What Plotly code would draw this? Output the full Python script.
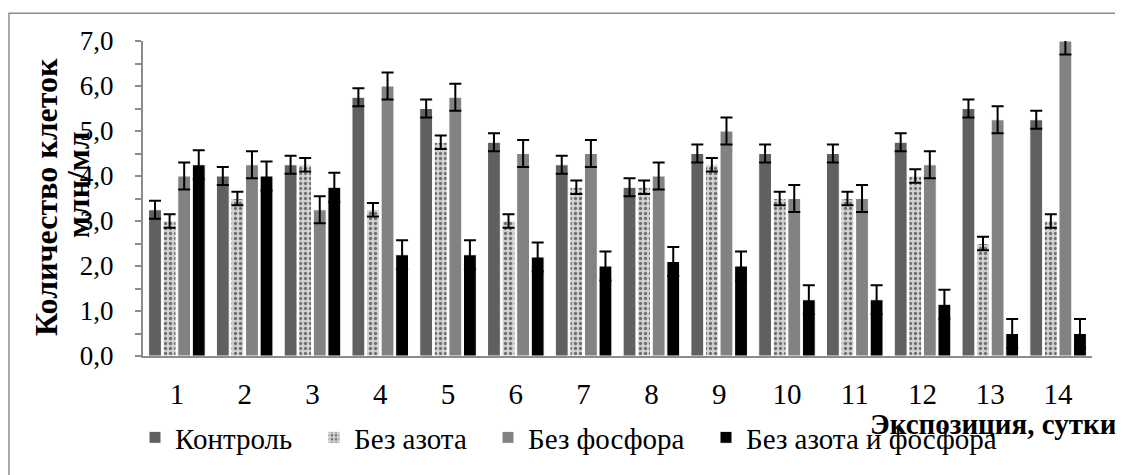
import plotly.graph_objects as go

days = [str(d) for d in range(1, 15)]
control = [3.25, 4.0, 4.25, 5.75, 5.5, 4.75, 4.25, 3.75, 4.5, 4.5, 4.5, 4.75, 5.5, 5.25]
no_n = [3.0, 3.5, 4.25, 3.25, 4.75, 3.0, 3.75, 3.75, 4.25, 3.5, 3.5, 4.0, 2.5, 3.0]
no_p = [4.0, 4.25, 3.25, 6.0, 5.75, 4.5, 4.5, 4.0, 5.0, 3.5, 3.5, 4.25, 5.25, 7.0]
no_np = [4.25, 4.0, 3.75, 2.25, 2.25, 2.2, 2.0, 2.1, 2.0, 1.25, 1.25, 1.15, 0.5, 0.5]

err_control = [0.2] * 14
err_no_n = [0.15] * 14
err_no_p = [0.3] * 14
err_no_np = [0.32] * 14

names = ["Контроль", "Без азота", "Без фосфора", "Без азота и фосфора"]
ytitle_lines = ["Количество клеток", "млн/мл"]
xtitle = "Экспозиция, сутки"
ytick_vals = [i * 0.5 for i in range(15)]
ytick_text = [f"{v:.1f}".replace(".", ",") if v == int(v) else "" for v in ytick_vals]

FONT = "Liberation Serif"
FS = 29
FT = 27

fig = go.Figure()

def add(name, y, err, color, legend, pattern=None):
    marker = dict(color=color, line=dict(color="white", width=1))
    if pattern:
        marker["pattern"] = pattern
    fig.add_trace(go.Bar(
        x=days, y=y, name=name, marker=marker, legend=legend, showlegend=True,
        error_y=dict(type="data", array=err, visible=True, color="black", thickness=2, width=6),
    ))

add(names[0], control, err_control, "#606060", "legend")
add(names[1], no_n, err_no_n, "#c8c8c8", "legend2",
    pattern=dict(shape=".", fgcolor="#707070", bgcolor="#d2d2d2", size=5, solidity=0.35, fillmode="replace"))
add(names[2], no_p, err_no_p, "#828282", "legend3")
add(names[3], no_np, err_no_np, "#000000", "legend4")

OFF = 8  # page body margin
W, H = 1123 - OFF, 475 - OFF
# plot area in page pixel coordinates
L, R, T, B = 143, 1092, 41, 358
pw, ph = R - L, B - T

def px(xp):
    return (xp - L) / pw

def py(yp):
    return (B - yp) / ph

leg_common = dict(orientation="h", yanchor="middle", y=py(440), xanchor="left",
                  font=dict(family=FONT, size=FS, color="black"), bgcolor="rgba(0,0,0,0)",
                  itemwidth=30, tracegroupgap=0, visible=True)

fig.update_layout(
    width=W, height=H,
    margin=dict(l=L - OFF, r=1123 - R, t=T - OFF, b=475 - B, pad=0),
    plot_bgcolor="white", paper_bgcolor="white",
    showlegend=True,
    barmode="group", bargap=0.14, bargroupgap=0.12,
    font=dict(family=FONT, size=FS, color="black"),
    legend=dict(**leg_common, x=px(135)),
    legend2=dict(**leg_common, x=px(314)),
    legend3=dict(**leg_common, x=px(488)),
    legend4=dict(**leg_common, x=px(706)),
    xaxis=dict(type="category", showline=True, linecolor="#8c8c8c", linewidth=2,
               ticks="", tickfont=dict(family=FONT, size=29, color="black"), showgrid=False,
               ticklabelstandoff=11),
    yaxis=dict(range=[0, 7], tickvals=ytick_vals, ticktext=ytick_text, showline=True,
               linecolor="#8c8c8c", linewidth=2, ticks="outside", ticklen=6, tickcolor="#8c8c8c",
               tickwidth=1.5, showgrid=False, zeroline=False, ticklabelstandoff=16,
               tickfont=dict(family=FONT, size=FT, color="black")),
    shapes=[dict(type="rect", xref="paper", yref="paper",
                 x0=px(9), x1=px(1121), y0=py(490), y1=py(13),
                 line=dict(color="#8c8c8c", width=1.5), fillcolor="rgba(0,0,0,0)", layer="below")],
    annotations=[
        dict(text=f"<b>{ytitle_lines[0]}</b>", textangle=-90, xref="paper", yref="paper",
             x=px(46), y=py(198), xanchor="center", yanchor="middle", showarrow=False,
             font=dict(family=FONT, size=32, color="black")),
        dict(text=f"<b>{ytitle_lines[1]}</b>", textangle=-90, xref="paper", yref="paper",
             x=px(78), y=py(186), xanchor="center", yanchor="middle", showarrow=False,
             font=dict(family=FONT, size=32, color="black")),
        dict(text=f"<b>{xtitle}</b>", xref="paper", yref="paper",
             x=px(1118), y=py(426), xanchor="right", yanchor="middle", showarrow=False,
             font=dict(family=FONT, size=FS, color="black")),
    ],
)

fig.write_html("out.html")
